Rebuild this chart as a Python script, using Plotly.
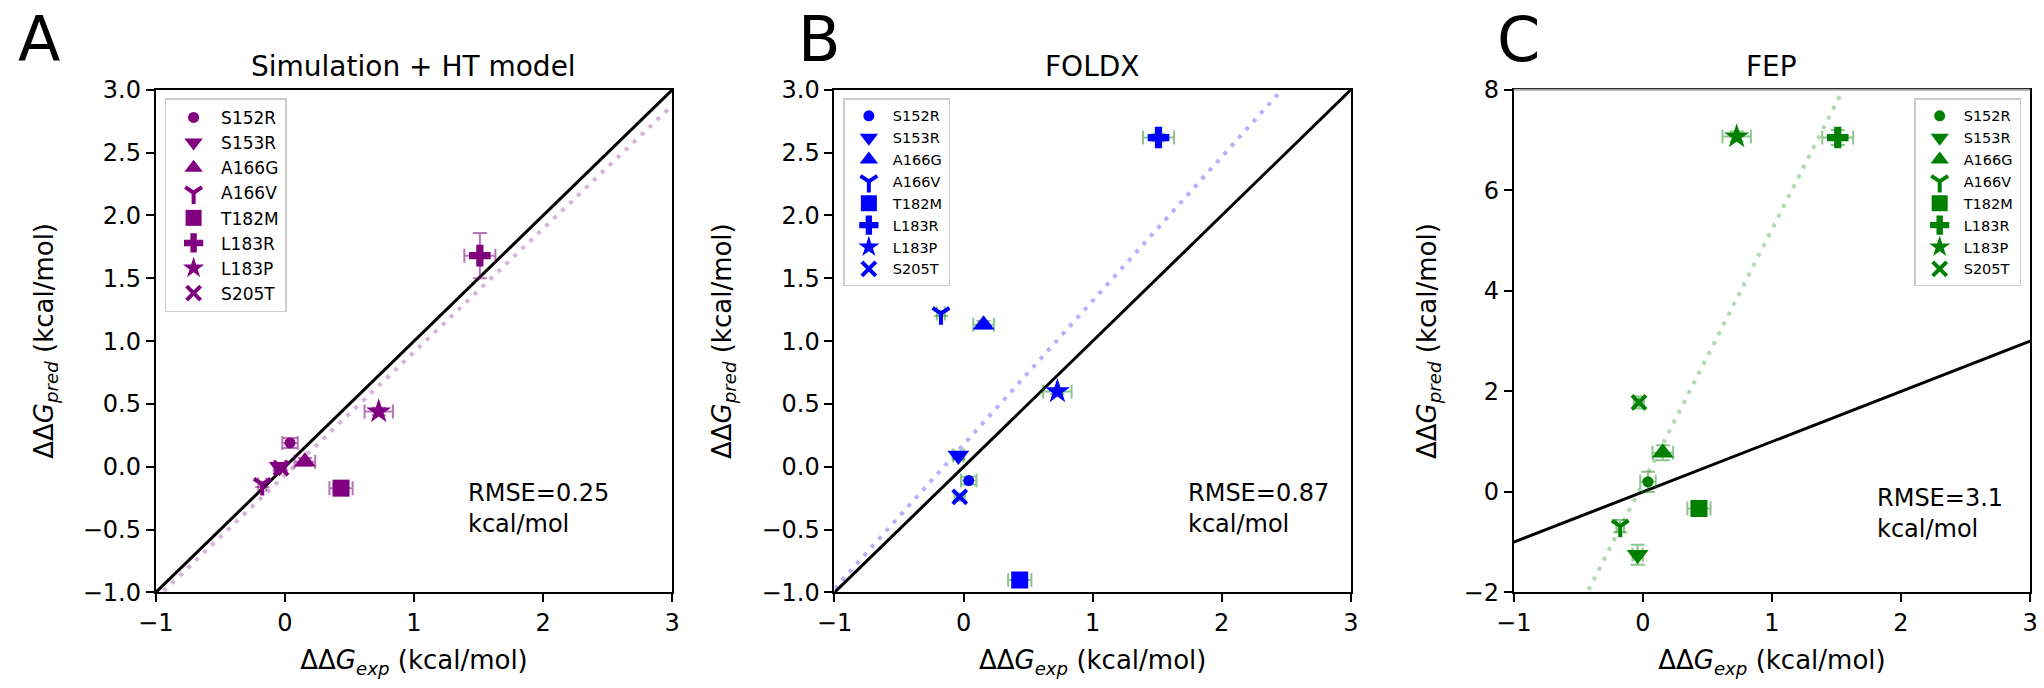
import numpy as np
import plotly.graph_objects as go

# mutants, one marker per mutant
mutants = ["S152R", "S153R", "A166G", "A166V", "T182M", "L183R", "L183P", "S205T"]
symbols = ["circle", "triangle-down", "triangle-up", "y-down", "square", "cross", "star", "x-thin"]
msizes = [11, 19, 19, 14, 17, 18, 19, 14]
line_symbols = ["y-down", "x-thin"]

# experimental ddG (shared x values) and errors
ddg_exp = [0.04, -0.04, 0.155, -0.175, 0.435, 1.51, 0.727, -0.03]
ddg_exp_err = [0.06, 0.04, 0.08, 0.03, 0.09, 0.12, 0.11, 0.04]

# predictions
ddg_sim = [0.19, 0.00, 0.04, -0.14, -0.17, 1.68, 0.44, -0.01]
ddg_sim_err = [0.04, 0.03, 0.03, 0.02, 0.03, 0.18, 0.03, 0.02]
ddg_foldx = [-0.11, 0.09, 1.13, 1.22, -0.90, 2.62, 0.60, -0.24]
ddg_foldx_err = [0.03, 0.03, 0.03, 0.02, 0.03, 0.03, 0.02, 0.03]
ddg_fep = [0.20, -1.25, 0.78, -0.68, -0.33, 7.05, 7.07, 1.78]
ddg_fep_err = [0.20, 0.20, 0.15, 0.12, 0.15, 0.15, 0.10, 0.12]

titles = ["Simulation + HT model", "FOLDX", "FEP"]
letters = ["A", "B", "C"]
rmse_txt = ["RMSE=0.25<br>kcal/mol", "RMSE=0.87<br>kcal/mol", "RMSE=3.1<br>kcal/mol"]
x_label = "ΔΔ<i>G</i><sub><i>exp</i></sub> (kcal/mol)"
y_label = "ΔΔ<i>G</i><sub><i>pred</i></sub> (kcal/mol)"

x_range = [-1, 3]
x_ticks = [-1, 0, 1, 2, 3]
y_range_ab = [-1, 3]
y_ticks_ab = [-1.0, -0.5, 0.0, 0.5, 1.0, 1.5, 2.0, 2.5, 3.0]
y_range_c = [-2, 8]
y_ticks_c = [-2, 0, 2, 4, 6, 8]

W, H = 2044, 688
FONT = "DejaVu Sans"

panels = [
    dict(pred=ddg_sim, err=ddg_sim_err, color="#800080", ecolor="rgba(128,0,128,0.55)",
         fcolor="rgba(128,0,128,0.3)", yr=y_range_ab, yt=y_ticks_ab, fmt=".1f",
         leg_font=17, leg_iw=45, rmse_x=0.60, rmse_y=0.168),
    dict(pred=ddg_foldx, err=ddg_foldx_err, color="#0000ff", ecolor="rgba(0,128,0,0.45)",
         fcolor="rgba(0,0,255,0.3)", yr=y_range_ab, yt=y_ticks_ab, fmt=".1f",
         leg_font=14.5, leg_iw=38, rmse_x=0.68, rmse_y=0.168),
    dict(pred=ddg_fep, err=ddg_fep_err, color="#008000", ecolor="rgba(0,128,0,0.45)",
         fcolor="rgba(0,128,0,0.3)", yr=y_range_c, yt=y_ticks_c, fmt="d",
         leg_font=14.5, leg_iw=38, rmse_x=0.70, rmse_y=0.158),
]

# pixel boxes of the three axes
x_px = [(139.5, 662.7), (827, 1350), (1515, 2038)]
y_px = (79, 603)
ydom = [1 - y_px[1] / H, 1 - y_px[0] / H]
letter_x = [21, 812, 1520]
ytitle_x = [27, 714, 1428]

fig = go.Figure()
layout = dict(width=W, height=H, margin=dict(l=0, r=0, t=0, b=0),
              plot_bgcolor="white", paper_bgcolor="white",
              font=dict(family=FONT, size=24, color="black"), annotations=[], shapes=[])

fit_x = np.array(x_range, dtype=float)

for k, p in enumerate(panels):
    xa = "x" if k == 0 else f"x{k + 1}"
    ya = "y" if k == 0 else f"y{k + 1}"
    leg = "legend" if k == 0 else f"legend{k + 1}"

    # y = x reference
    fig.add_trace(go.Scatter(x=fit_x, y=fit_x, mode="lines", xaxis=xa, yaxis=ya,
                             line=dict(color="black", width=3), showlegend=False, hoverinfo="skip"))
    # linear fit
    m, b = np.polyfit(ddg_exp, p["pred"], 1)
    fig.add_trace(go.Scatter(x=fit_x, y=m * fit_x + b, mode="lines", xaxis=xa, yaxis=ya,
                             line=dict(color=p["fcolor"], width=4, dash="4px,7px"),
                             showlegend=False, hoverinfo="skip"))

    for i, name in enumerate(mutants):
        is_line = symbols[i] in line_symbols
        fig.add_trace(go.Scatter(
            x=[ddg_exp[i]], y=[p["pred"][i]], mode="markers", name=name,
            xaxis=xa, yaxis=ya, legend=leg,
            marker=dict(symbol=symbols[i], size=msizes[i], color=p["color"],
                        line=dict(color=p["color"], width=4 if is_line else 0)),
            error_x=dict(type="data", array=[ddg_exp_err[i]], color=p["ecolor"], thickness=2, width=7),
            error_y=dict(type="data", array=[p["err"][i]], color=p["ecolor"], thickness=2, width=7),
        ))

    x0, x1 = x_px[k]
    axis_common = dict(showline=True, linewidth=2, linecolor="black", mirror=True,
                       ticks="outside", ticklen=8, tickwidth=2, tickcolor="black",
                       showgrid=False, zeroline=False, tickfont=dict(size=24))
    layout["xaxis" if k == 0 else f"xaxis{k + 1}"] = dict(
        axis_common, domain=[x0 / W, x1 / W], anchor=ya, range=x_range,
        tickvals=x_ticks, title=dict(text=x_label, font=dict(size=26)))
    layout["yaxis" if k == 0 else f"yaxis{k + 1}"] = dict(
        axis_common, domain=ydom, anchor=xa, range=p["yr"], tickvals=p["yt"], tickformat=p["fmt"])

    # legend box
    if k == 2:
        lx, lxa = (x1 - 9) / W, "right"
    else:
        lx, lxa = (x0 + 9) / W, "left"
    layout[leg] = dict(x=lx, xanchor=lxa, y=1 - 88 / H, yanchor="top",
                       bgcolor="rgba(255,255,255,0.8)", bordercolor="#cccccc", borderwidth=1.5,
                       font=dict(size=p["leg_font"]), itemwidth=p["leg_iw"], itemsizing="trace")

    # y title, panel title, panel letter, rmse text
    layout["annotations"].append(dict(text=y_label, textangle=-90, x=ytitle_x[k] / W,
                                      y=sum(ydom) / 2, xref="paper", yref="paper",
                                      xanchor="center", yanchor="middle", showarrow=False,
                                      font=dict(size=26)))
    layout["annotations"].append(dict(text=titles[k], x=(x0 + x1) / 2 / W, y=1 - 55 / H,
                                      xref="paper", yref="paper", xanchor="center",
                                      yanchor="middle", showarrow=False, font=dict(size=28)))
    layout["annotations"].append(dict(text=letters[k], x=letter_x[k] / W, y=1 - 27 / H,
                                      xref="paper", yref="paper", xanchor="center",
                                      yanchor="middle", showarrow=False, font=dict(size=62)))
    layout["annotations"].append(dict(text=rmse_txt[k], x=p["rmse_x"], y=p["rmse_y"], align="left",
                                      xref=f"{xa} domain", yref=f"{ya} domain",
                                      xanchor="left", yanchor="middle", showarrow=False,
                                      font=dict(size=24)))

# panel C has a lighter top edge
layout["shapes"].append(dict(type="line", xref="x3 domain", yref="y3 domain", x0=0, x1=1,
                             y0=1, y1=1, line=dict(color="#a8a8a8", width=2)))

fig.update_layout(**layout)
fig.write_html("out.html", config={"displayModeBar": False},
               post_script="document.body.style.margin='0px';")
